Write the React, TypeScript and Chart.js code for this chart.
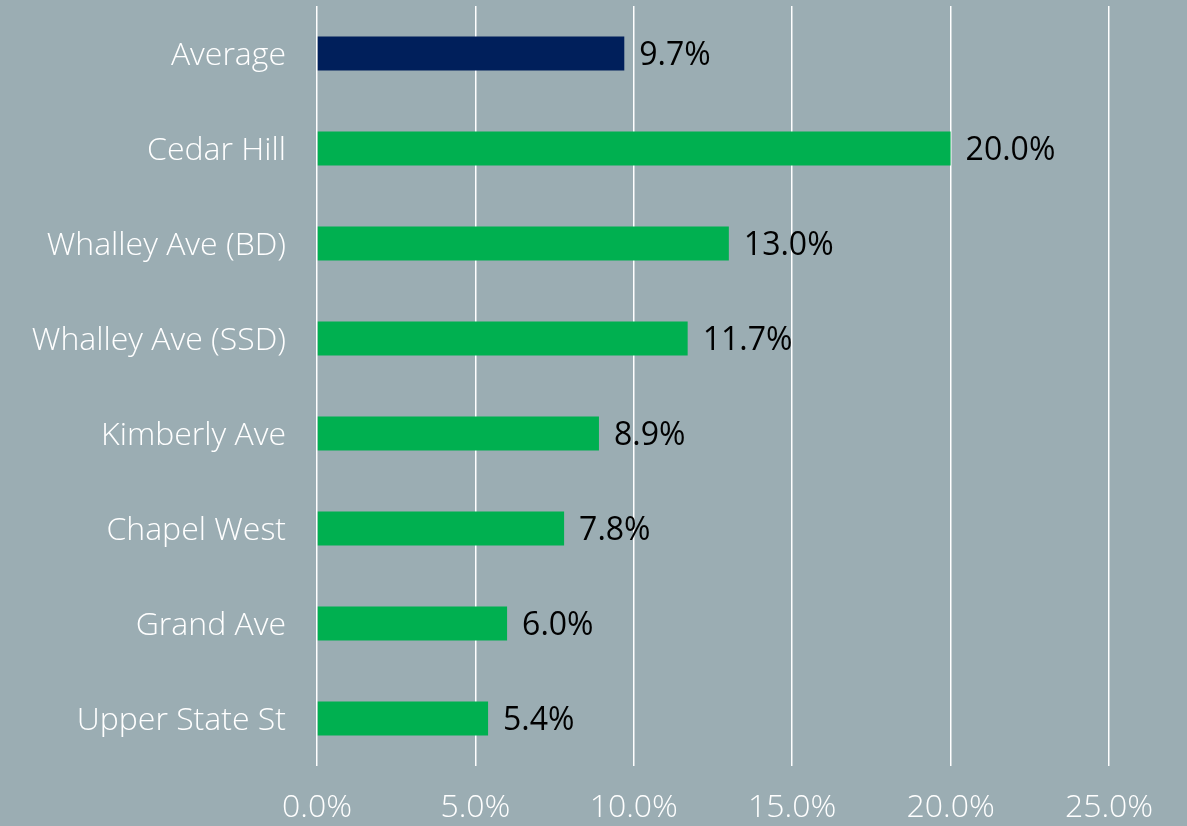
import React, { useEffect, useRef } from "react";
import { Chart, registerables } from "chart.js";

Chart.register(...registerables);

const categories = [
  "Average",
  "Cedar Hill",
  "Whalley Ave (BD)",
  "Whalley Ave (SSD)",
  "Kimberly Ave",
  "Chapel West",
  "Grand Ave",
  "Upper State St",
];
const values = [9.7, 20.0, 13.0, 11.7, 8.9, 7.8, 6.0, 5.4];
const barColors = ["#001F5B", "#00B050", "#00B050", "#00B050", "#00B050", "#00B050", "#00B050", "#00B050"];
const xTicks = [0, 5, 10, 15, 20, 25];

const FONT = "'Open Sans'";
const FSIZE = 32;
const BG = "#9BADB3";

const valueLabels = {
  id: "valueLabels",
  afterDatasetsDraw(chart: any) {
    const ctx = chart.ctx;
    const meta = chart.getDatasetMeta(0);
    ctx.save();
    ctx.font = `400 ${FSIZE}px ${FONT}`;
    ctx.fillStyle = "#000000";
    ctx.textAlign = "left";
    ctx.textBaseline = "middle";
    meta.data.forEach((bar: any, i: number) => {
      ctx.fillText(values[i].toFixed(1) + "%", bar.x + 15, bar.y + 2);
    });
    ctx.restore();
  },
};

export default function App() {
  const ref = useRef<HTMLCanvasElement>(null);
  useEffect(() => {
    document.body.style.margin = "0";
    document.body.style.background = BG;
    const chart = new Chart(ref.current!, {
      type: "bar",
      data: {
        labels: categories,
        datasets: [
          {
            data: values,
            backgroundColor: barColors,
            barPercentage: 0.36,
            categoryPercentage: 1,
          },
        ],
      },
      options: {
        indexAxis: "y",
        animation: false,
        responsive: false,
        maintainAspectRatio: false,
        layout: { padding: { top: 6, right: 78, left: 0, bottom: 0 } },
        plugins: { legend: { display: false }, tooltip: { enabled: false } },
        scales: {
          x: {
            min: 0,
            max: 25,
            afterBuildTicks: (scale: any) => {
              scale.ticks = xTicks.map((v) => ({ value: v }));
            },
            afterFit: (scale: any) => {
              scale.height = 60;
              scale.paddingLeft = 0;
              scale.paddingRight = 0;
            },
            grid: { color: "#FFFFFF", lineWidth: 1.5, drawTicks: false },
            border: { display: false },
            ticks: {
              color: "#FFFFFF",
              padding: 23,
              font: { family: FONT, size: FSIZE, weight: "300" },
              callback: (v: any) => Number(v).toFixed(1) + "%",
            },
          },
          y: {
            afterFit: (scale: any) => {
              scale.width = 317;
              scale.paddingTop = 0;
              scale.paddingBottom = 0;
            },
            grid: { display: false, drawTicks: false },
            border: { display: false },
            ticks: {
              color: "#FFFFFF",
              padding: 31,
              labelOffset: 2,
              font: { family: FONT, size: FSIZE, weight: "300" },
            },
          },
        },
      },
      plugins: [valueLabels],
    });
    return () => chart.destroy();
  }, []);
  return (
    <div style={{ width: 1187, height: 826, background: BG }}>
      <canvas ref={ref} width={1187} height={826} style={{ display: "block" }} />
    </div>
  );
}
